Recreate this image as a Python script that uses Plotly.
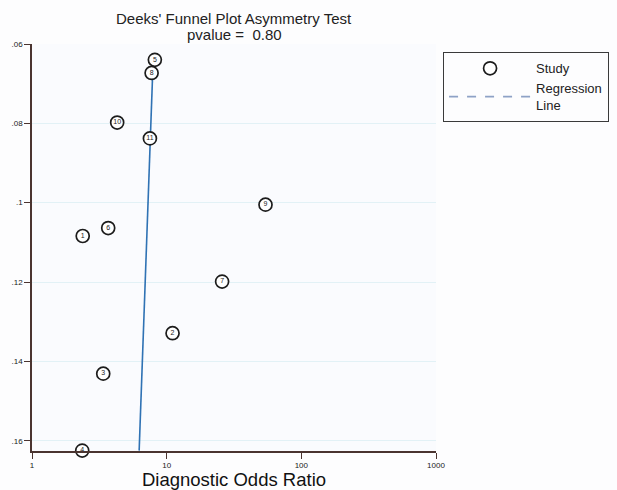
import numpy as np
import plotly.graph_objects as go

# Study estimates: diagnostic odds ratio and 1/sqrt(effective sample size)
study_ids = ["1", "2", "3", "4", "5", "6", "7", "8", "9", "10", "11"]
dor = [2.38, 11.06, 3.38, 2.36, 8.17, 3.68, 25.8, 7.73, 54.2, 4.29, 7.51]
inv_sqrt_ess = [0.1084, 0.1329, 0.1431, 0.1625, 0.0640, 0.1064, 0.1199,
                0.0673, 0.1005, 0.0798, 0.0838]

# Regression of ln(DOR) on 1/sqrt(ESS)
reg_intercept = 2.227
reg_slope = -2.43
p_value = 0.80

y_ticks = [0.06, 0.08, 0.10, 0.12, 0.14, 0.16]
y_tick_text = [".06", ".08", ".1", ".12", ".14", ".16"]
x_ticks = [1, 10, 100, 1000]
x_tick_text = ["1", "10", "100", "1000"]

reg_y = np.array([min(inv_sqrt_ess), max(inv_sqrt_ess)])
reg_x = np.exp(reg_intercept + reg_slope * reg_y)

axis_col = "#4a3430"
font_family = "Liberation Sans, Arial, sans-serif"

# plot area geometry (pixels)
top_px, bottom_px = 43.5, 451.3
plot_h = bottom_px - top_px

fig = go.Figure()

# regression line drawn in the plot
fig.add_trace(go.Scatter(
    x=reg_x, y=reg_y, mode="lines",
    line=dict(color="#2f72b4", width=1.6),
    showlegend=False, hoverinfo="skip", cliponaxis=False,
))

# studies
fig.add_trace(go.Scatter(
    x=dor, y=inv_sqrt_ess, mode="markers+text",
    text=study_ids, textposition="middle center",
    textfont=dict(size=7, color="#222222", family=font_family),
    marker=dict(symbol="circle", size=13, color="white",
                line=dict(color="#1c1c1c", width=1.7)),
    name="Study", cliponaxis=False,
))

# legend entry for the regression line
fig.add_trace(go.Scatter(
    x=[None], y=[None], mode="lines",
    line=dict(color="#8ea2c6", width=1.6, dash="dash"),
    name="Regression<br>Line",
))

title_lines = ["Deeks' Funnel Plot Asymmetry Test", f"pvalue =  {p_value:.2f}"]
title_centers_px = [18, 34]
annotations = [
    dict(text=t, xref="paper", yref="paper", x=0.5, xanchor="center",
         y=1 + (top_px - c) / plot_h, yanchor="middle", showarrow=False,
         font=dict(size=15, color="#222222", family=font_family))
    for t, c in zip(title_lines, title_centers_px)
]

fig.update_layout(
    width=617, height=490,
    margin=dict(l=32, r=181, t=top_px, b=490 - bottom_px, autoexpand=False),
    paper_bgcolor="#fdfdfe",
    plot_bgcolor="#fafbfe",
    font=dict(family=font_family, color="#222222"),
    annotations=annotations,
    legend=dict(
        x=1.017, xanchor="left", y=0.98, yanchor="top",
        bordercolor="#3a3a3a", borderwidth=1.2, bgcolor="#fdfdfe",
        font=dict(size=13, color="#222222", family=font_family),
        itemwidth=82,
        tracegroupgap=0,
    ),
    showlegend=True,
)

fig.update_xaxes(
    type="log", range=[0, 3],
    tickvals=x_ticks, ticktext=x_tick_text,
    ticks="outside", ticklen=6, tickwidth=1.2, tickcolor=axis_col,
    tickfont=dict(size=8, color="#222222"),
    ticklabelstandoff=0,
    showline=True, linecolor=axis_col, linewidth=1.5,
    showgrid=False, zeroline=False,
    title=dict(text="Diagnostic Odds Ratio", font=dict(size=18.5, color="#111111"),
               standoff=14),
)

fig.update_yaxes(
    range=[0.1626, 0.06],
    tickvals=y_ticks, ticktext=y_tick_text,
    ticks="outside", ticklen=6, tickwidth=1.2, tickcolor=axis_col,
    tickfont=dict(size=8, color="#222222"),
    showline=True, linecolor=axis_col, linewidth=1.5,
    showgrid=True, gridcolor="#e2f1f6", gridwidth=1,
    zeroline=False,
)

fig.write_html("out.html")
